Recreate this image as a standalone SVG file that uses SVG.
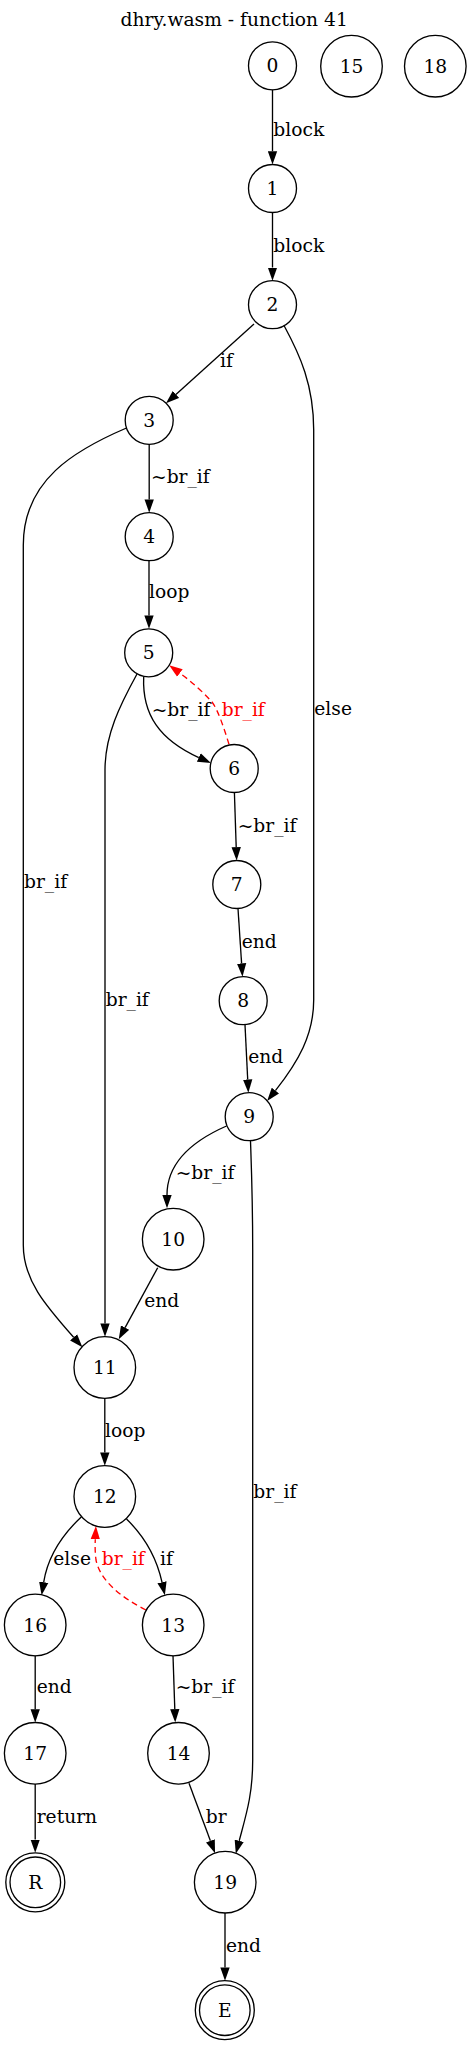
<svg xmlns="http://www.w3.org/2000/svg" width="471" height="2045" viewBox="0 0 471 2045">
<style>
text{font-family:"DejaVu Serif","Liberation Serif",serif;font-size:18.67px;fill:#000}
.n{text-anchor:middle}
.r{fill:#ff0000}
circle{fill:none;stroke:#000;stroke-width:1.33}
.e{fill:none;stroke:#000;stroke-width:1.33;marker-end:url(#a)}
.d{fill:none;stroke:#ff0000;stroke-width:1.33;stroke-dasharray:6,4;marker-end:url(#ar)}
</style>
<defs>
<marker id="a" markerUnits="userSpaceOnUse" viewBox="0 -5 14 10" refX="0" refY="0" markerWidth="14" markerHeight="10" orient="auto"><path d="M0,-4.67L13.33,0L0,4.67z" fill="#000"/></marker>
<marker id="ar" markerUnits="userSpaceOnUse" viewBox="0 -5 14 10" refX="0" refY="0" markerWidth="14" markerHeight="10" orient="auto"><path d="M0,-4.67L13.33,0L0,4.67z" fill="#ff0000"/></marker>
</defs>
<rect width="471" height="2045" fill="#fff"/>
<text class="n" x="234.2" y="26">dhry.wasm - function 41</text>
<g id="edges">
<path class="e" d="M272.5,89.8L272.5,151.2"/><text x="273.3" y="136">block</text>
<path class="e" d="M272.5,212.5L272.5,267.5"/><text x="273.3" y="251.7">block</text>
<path class="e" d="M254,324L175.9,394.4"/><text x="220" y="366.7">if</text>
<path class="e" d="M284,325.5C300,355 313.7,385 313.7,430L313.7,1000C313.7,1035 298,1062 275.4,1090.6"/><text x="314.3" y="715">else</text>
<path class="e" d="M149.2,444.3L149.2,499.4"/><text x="151" y="482.7">~br_if</text>
<path class="e" d="M126.5,428C75,450 23.3,480 23.3,545L23.3,1245C23.3,1280 45,1305 73.6,1337.3"/><text x="24" y="888.3">br_if</text>
<path class="e" d="M149,560.7L149,615.4"/><text x="149" y="598">loop</text>
<path class="e" d="M143.7,676.7C142,715 160,740 198.8,757.6"/><text x="151.7" y="715.7">~br_if</text>
<path class="d" d="M229,744.3C224,728 218,710 212,702C203,692 192,682 179.9,673.1"/><text class="r" x="221.7" y="715.7">br_if</text>
<path class="e" d="M137,674C120,705 105,735 105,770L105,1323.4"/><text x="105.7" y="1006">br_if</text>
<path class="e" d="M234.4,792.5L236.2,847.2"/><text x="237.7" y="831.7">~br_if</text>
<path class="e" d="M238,908.5L241.6,963.4"/><text x="241.7" y="947.7">end</text>
<path class="e" d="M245,1024.7L247.7,1079.4"/><text x="248.3" y="1063.3">end</text>
<path class="e" d="M226.5,1126C190,1142 167,1165 167,1195"/><text x="175.7" y="1179.3">~br_if</text>
<path class="e" d="M250.5,1140.7C251.5,1170 252.7,1200 252.7,1250L252.7,1760C252.7,1795 246,1815 239.2,1840.8"/><text x="253.3" y="1498.3">br_if</text>
<path class="e" d="M157.7,1267.7L125.1,1327.6"/><text x="144.3" y="1307.3">end</text>
<path class="e" d="M104.8,1398.3L104.8,1452.4"/><text x="105" y="1436.7">loop</text>
<path class="e" d="M81.5,1516.7C62,1535 48,1555 43.7,1582.2"/><text x="53.3" y="1565">else</text>
<path class="e" d="M126.5,1519C143,1535 156,1555 162,1582.2"/><text x="160" y="1565">if</text>
<path class="d" d="M146,1610C120,1597 100,1580 96,1560C95,1552 95,1546 95.3,1539.3"/><text class="r" x="101.7" y="1565">br_if</text>
<path class="e" d="M35.2,1655.8L35.2,1709.2"/><text x="36.7" y="1693.3">end</text>
<path class="e" d="M173,1655.8L174.8,1709.2"/><text x="175.7" y="1693.3">~br_if</text>
<path class="e" d="M35.2,1784L35.2,1839.5"/><text x="36.7" y="1822.7">return</text>
<path class="e" d="M189,1783.3L210.4,1840.8"/><text x="205.7" y="1822.7">br</text>
<path class="e" d="M225,1913L225,1967.4"/><text x="226" y="1951.7">end</text>
</g>
<g id="n0"><circle cx="272.5" cy="65.8" r="24"/><text class="n" x="272.5" y="72.3">0</text></g>
<g id="n15"><circle cx="351.5" cy="66.2" r="30.8"/><text class="n" x="351.5" y="72.7">15</text></g>
<g id="n18"><circle cx="435.3" cy="66.2" r="30.8"/><text class="n" x="435.3" y="72.7">18</text></g>
<g id="n1"><circle cx="272.5" cy="188.5" r="24"/><text class="n" x="272.5" y="195">1</text></g>
<g id="n2"><circle cx="272.5" cy="304.7" r="24"/><text class="n" x="272.5" y="311.2">2</text></g>
<g id="n3"><circle cx="149.2" cy="420.3" r="24"/><text class="n" x="149.2" y="426.8">3</text></g>
<g id="n4"><circle cx="149.2" cy="536.7" r="24"/><text class="n" x="149.2" y="543.2">4</text></g>
<g id="n5"><circle cx="148.7" cy="652.8" r="24"/><text class="n" x="148.7" y="659.3">5</text></g>
<g id="n6"><circle cx="234.2" cy="768.5" r="24"/><text class="n" x="234.2" y="775">6</text></g>
<g id="n7"><circle cx="236.8" cy="884.5" r="24"/><text class="n" x="236.8" y="891">7</text></g>
<g id="n8"><circle cx="243.2" cy="1000.7" r="24"/><text class="n" x="243.2" y="1007.2">8</text></g>
<g id="n9"><circle cx="249.2" cy="1116.7" r="24"/><text class="n" x="249.2" y="1123.2">9</text></g>
<g id="n10"><circle cx="173.2" cy="1239.2" r="30.8"/><text class="n" x="173.2" y="1245.7">10</text></g>
<g id="n11"><circle cx="104.8" cy="1367.5" r="30.8"/><text class="n" x="104.8" y="1374">11</text></g>
<g id="n12"><circle cx="104.8" cy="1496.5" r="30.8"/><text class="n" x="104.8" y="1503">12</text></g>
<g id="n16"><circle cx="35.2" cy="1625" r="30.8"/><text class="n" x="35.2" y="1631.5">16</text></g>
<g id="n13"><circle cx="173.2" cy="1625" r="30.8"/><text class="n" x="173.2" y="1631.5">13</text></g>
<g id="n17"><circle cx="35.2" cy="1753.3" r="30.8"/><text class="n" x="35.2" y="1759.8">17</text></g>
<g id="n14"><circle cx="178.5" cy="1753.3" r="30.8"/><text class="n" x="178.5" y="1759.8">14</text></g>
<g id="nR"><circle cx="35.3" cy="1882.3" r="29.5"/><circle cx="35.3" cy="1882.3" r="25.3"/><text class="n" x="35.3" y="1888.8">R</text></g>
<g id="n19"><circle cx="225.2" cy="1882.2" r="30.8"/><text class="n" x="225.2" y="1888.7">19</text></g>
<g id="nE"><circle cx="224.8" cy="2010.2" r="29.5"/><circle cx="224.8" cy="2010.2" r="25.3"/><text class="n" x="224.8" y="2016.7">E</text></g>
</svg>
